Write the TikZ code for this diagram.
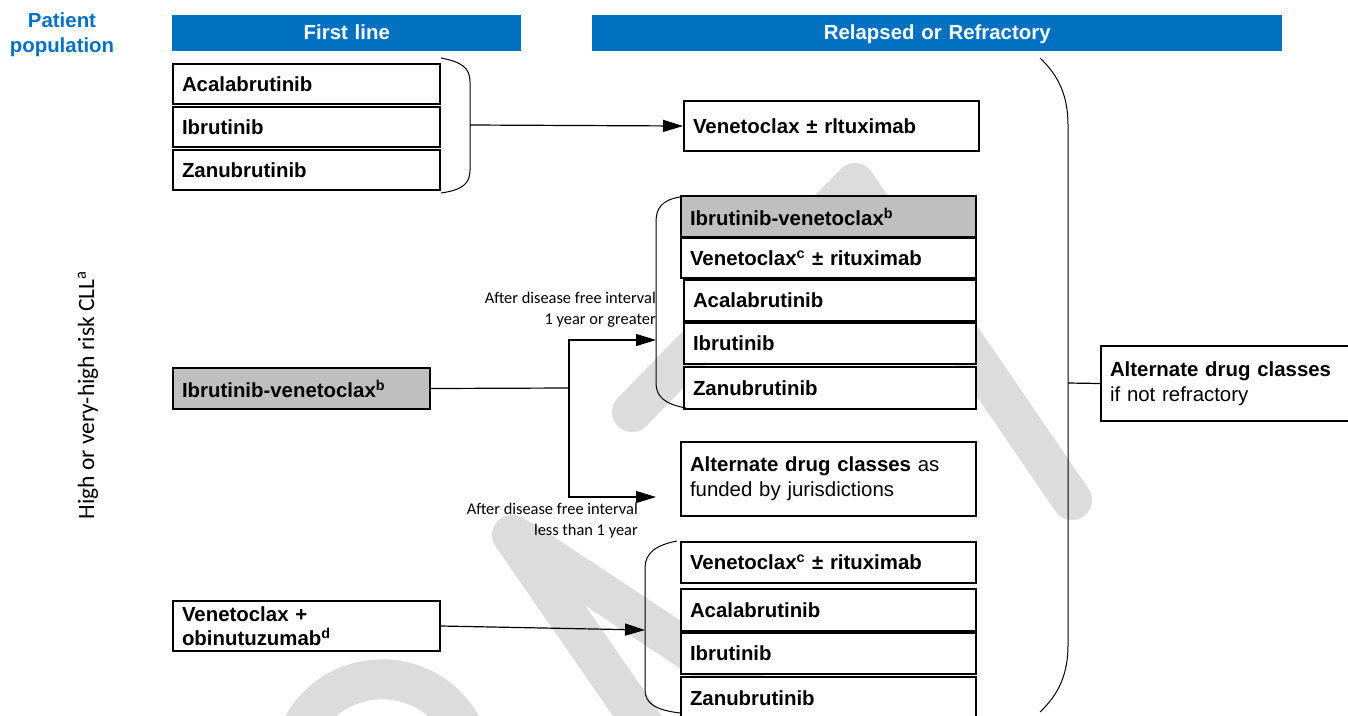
\documentclass[tikz,border=0pt]{standalone}
\usepackage{fontspec}
\setmainfont{Liberation Sans}
\newfontfamily\carl{Carlito}
\usetikzlibrary{arrows.meta}
\definecolor{hblue}{RGB}{0,112,192}
\definecolor{wmgray}{RGB}{220,220,220}
\definecolor{boxgray}{RGB}{191,191,191}
\begin{document}
\begin{tikzpicture}[x=0.75pt,y=-0.75pt,
  box/.code 2 args={\pgfmathsetmacro\bw{#1*0.75}\pgfmathsetmacro\bh{#2*0.75}\pgfmathsetmacro\tw{(#1-18)*0.75}%
    \edef\tmp{\noexpand\pgfkeysalso{minimum width=\bw pt,minimum height=\bh pt,text width=\tw pt}}\tmp},
  drug/.style={draw=black, line width=1.5pt, fill=white, anchor=north west, inner xsep=6.75pt, inner ysep=0pt,
    align=left, font=\bfseries\fontsize{15.3}{18}\selectfont},
  plain/.style={drug, font=\fontsize{15.3}{18.5}\selectfont},
  hdr/.style={fill=hblue, text=white, anchor=north west, inner xsep=6.75pt, inner ysep=0pt, align=center,
    text height=11pt, text depth=2pt, font=\bfseries\fontsize{15.3}{18}\selectfont},
  lab/.style={inner sep=0pt, align=right, font=\carl\fontsize{12.3}{15.75}\selectfont},
  brc/.style={draw=black, line width=0.75pt},
  conn/.style={draw=black, line width=0.9pt},
  arr/.style={-{Triangle[length=15pt,width=9pt]}},
  wm/.style={draw=wmgray, line width=30pt, line cap=round, line join=round}
]
\useasboundingbox (0,0) rectangle (1348,715);
% watermark
\draw[wm] (632,412) -- (855,183) -- (1072,500);
\draw[wm] (690,792) -- (512,535) -- (530,545) -- (900,790);
\draw[wm] (295,745) .. controls (320,660) and (440,655) .. (470,745);

% headers
\node[text=hblue, align=center, font=\bfseries\fontsize{15.3}{18.75}\selectfont] (pp) at (62,35) {Patient\\population};
\node[hdr, box={349}{36}] (h1) at (172,15) {First line};
\node[hdr, box={690}{36}] (h2) at (592,15) {Relapsed or Refractory};
\node[rotate=90, font=\carl\fontsize{17.6}{20}\selectfont] (pop) at (88,395) {High or very-high risk CLL\textsuperscript{a}};

% first line
\node[drug, box={267}{40}] (fa) at (172,63) {Acalabrutinib};
\node[drug, box={267}{40}] (fi) at (172,106) {Ibrutinib};
\node[drug, box={267}{40}] (fz) at (172,149) {Zanubrutinib};
\node[drug, fill=boxgray, box={257}{41}] (fiv) at (172,367) {Ibrutinib-venetoclax\textsuperscript{b}};
\node[drug, box={267}{50}] (fvo) at (172,600) {Venetoclax +\\obinutuzumab\textsuperscript{d}};

% relapsed
\node[drug, box={295}{50}] (rvr) at (683,100) {Venetoclax ± rltuximab};
\node[drug, fill=boxgray, box={295}{41}] (s1) at (680,195) {Ibrutinib-venetoclax\textsuperscript{b}};
\node[drug, box={295}{40}] (s2) at (680,237) {Venetoclax\textsuperscript{c} ± rituximab};
\node[drug, box={292}{41}] (s3) at (683,279) {Acalabrutinib};
\node[drug, box={292}{41}] (s4) at (683,322) {Ibrutinib};
\node[drug, box={292}{42}] (s5) at (683,366) {Zanubrutinib};
\node[plain, box={295}{74}] (alt1) at (680,441) {\textbf{Alternate drug classes} as\\funded by jurisdictions};
\node[drug, box={295}{41}] (t1) at (680,541) {Venetoclax\textsuperscript{c} ± rituximab};
\node[drug, box={295}{42}] (t2) at (680,588) {Acalabrutinib};
\node[drug, box={295}{41}] (t3) at (680,632) {Ibrutinib};
\node[drug, box={295}{42}] (t4) at (680,676) {Zanubrutinib};
\node[plain, box={262}{75}, inner xsep=6pt] (alt2) at (1100,345) {\textbf{Alternate drug classes}\\if not refractory};

% labels
\node[lab, anchor=east] (l1) at (656,310) {After disease free interval\\1 year or greater};
\node[lab, anchor=east] (l2) at (638,521) {After disease free interval\\less than 1 year};

% braces
\draw[brc] (441,58) .. controls (462,62) and (470,68) .. (470,82) -- (470,170) .. controls (470,184) and (462,190) .. (441,193);
\draw[brc] (680,197) .. controls (662,200) and (656,208) .. (656,222) -- (656,383) .. controls (656,396) and (664,404) .. (686,408);
\draw[brc] (677,541) .. controls (656,545) and (645,553) .. (645,568) -- (645,690) .. controls (645,703) and (655,710) .. (680,713);
\draw[brc] (1040,58) .. controls (1058,75) and (1068,95) .. (1068,125) -- (1068,645) .. controls (1068,675) and (1058,695) .. (1040,712);

\coordinate (b1) at (470,125);
\coordinate (b2) at (656,340);
\coordinate (e2) at (656,497);
\coordinate (sp) at (569,388);
\coordinate (b3) at (645,630);
\coordinate (b4) at (1068,383);

% connectors
\draw[conn, arr] (b1) -- (rvr.west);
\draw[conn] (fiv.east) -- (sp);
\draw[conn, arr] (sp) |- (b2);
\draw[conn, arr] (sp) |- (e2);
\draw[conn, arr] (fvo.east) -- (b3);
\draw[conn] (b4) -- (alt2.west);
\end{tikzpicture}
\end{document}
